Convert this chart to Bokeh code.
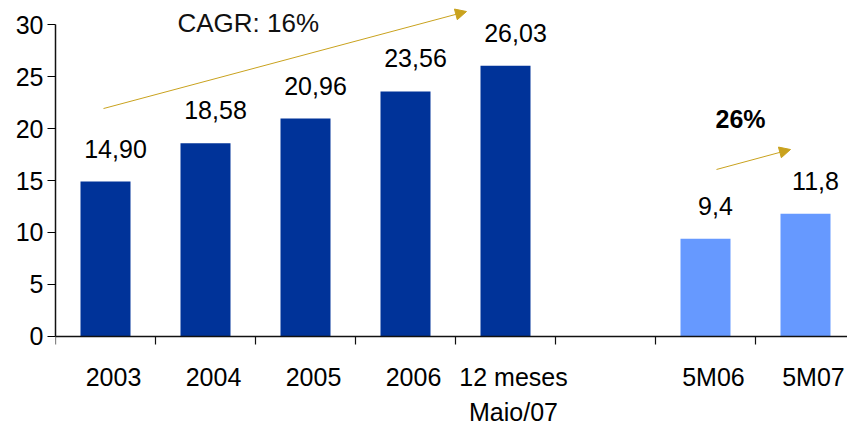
from bokeh.plotting import figure
from bokeh.models import (Range1d, LinearAxis, FixedTicker, Arrow, NormalHead,
                          ColumnDataSource)
from bokeh.core.properties import value
from bokeh.embed import file_html
from bokeh.resources import INLINE

# ---- data ----
categories = ["2003", "2004", "2005", "2006", "12 meses\nMaio/07", "5M06", "5M07"]
values = [14.90, 18.58, 20.96, 23.56, 26.03, 9.4, 11.8]
value_labels = ["14,90", "18,58", "20,96", "23,56", "26,03", "9,4", "11,8"]
groups = ["ano", "ano", "ano", "ano", "ano", "parcial", "parcial"]
slots = [0, 1, 2, 3, 4, 6, 7]          # slot 5 is an empty gap
n_slots = 8
y_ticks = [0, 5, 10, 15, 20, 25, 30]
cagr_label = "CAGR: 16%"
growth_label = "26%"

# ---- styling ----
DARK = "#003399"
LIGHT = "#6699FF"
GOLD = "#C9A21E"
FONT = "Liberation Sans"
colors = [DARK if g == "ano" else LIGHT for g in groups]

x_center = [s + 0.5 for s in slots]
label_shift = 0.08

src = ColumnDataSource(dict(x=x_center, top=values, color=colors, lab=value_labels))

p = figure(width=847, height=425, output_backend="svg", toolbar_location=None,
           x_range=Range1d(0, 7.92), y_range=Range1d(-8.56, 32.31),
           x_axis_location=None, y_axis_location=None,
           min_border_left=55, min_border_right=0, min_border_top=0,
           min_border_bottom=0)
p.outline_line_color = None
p.grid.visible = False
p.background_fill_color = "white"
p.border_fill_color = "white"

p.vbar(x="x", top="top", width=0.5, bottom=0, fill_color="color",
       line_color=None, source=src)

p.text(x="x", y="top", text="lab", source=src, x_offset=10, y_offset=-33,
       text_align="center", text_baseline="alphabetic",
       text_font=value(FONT), text_font_size="25px", text_color="black")

# y axis
yax = LinearAxis(ticker=FixedTicker(ticks=y_ticks, minor_ticks=[]),
                 bounds=(0, 30))
yax.axis_line_width = 1.5
yax.axis_line_color = "#111111"
yax.major_tick_out = 8
yax.major_tick_in = 0
yax.major_tick_line_width = 1.2
yax.minor_tick_line_color = None
yax.major_label_standoff = 4
yax.major_label_text_font = FONT
yax.major_label_text_font_size = "25px"
yax.major_label_text_color = "black"
p.add_layout(yax, "left")

# x axis (fixed at y = 0)
label_ticks = [x + label_shift for x in x_center]
xax = LinearAxis(ticker=FixedTicker(ticks=label_ticks,
                                    minor_ticks=list(range(n_slots))),
                 fixed_location=0)
xax.major_label_overrides = {t: c for t, c in zip(label_ticks, categories)}
xax.axis_line_width = 1.5
xax.axis_line_color = "#111111"
xax.major_tick_line_color = None
xax.major_tick_out = 0
xax.major_tick_in = 0
xax.minor_tick_out = 8
xax.minor_tick_in = 0
xax.minor_tick_line_color = "#111111"
xax.minor_tick_line_width = 1.2
xax.major_label_standoff = 19
xax.major_label_text_font = FONT
xax.major_label_text_font_size = "25px"
xax.major_label_text_line_height = 1.24
xax.major_label_text_color = "black"
p.add_layout(xax, "below")

# annotations
p.add_layout(Arrow(end=NormalHead(size=11, fill_color=GOLD, line_color=GOLD),
                   x_start=0.48, y_start=21.92, x_end=4.11, y_end=31.25,
                   line_color=GOLD, line_width=1))
p.add_layout(Arrow(end=NormalHead(size=11, fill_color=GOLD, line_color=GOLD),
                   x_start=6.61, y_start=16.06, x_end=7.35, y_end=17.98,
                   line_color=GOLD, line_width=1))
p.text(x=[1.22], y=[30.10], text=[cagr_label], text_align="left",
       text_baseline="alphabetic", text_font=value(FONT),
       text_font_size="26px", text_color="#111111")
p.text(x=[6.60], y=[20.87], text=[growth_label], text_align="left",
       text_baseline="alphabetic", text_font=value(FONT),
       text_font_size="25px", text_font_style="bold", text_color="black")

open("out.html", "w").write(file_html(p, INLINE))
